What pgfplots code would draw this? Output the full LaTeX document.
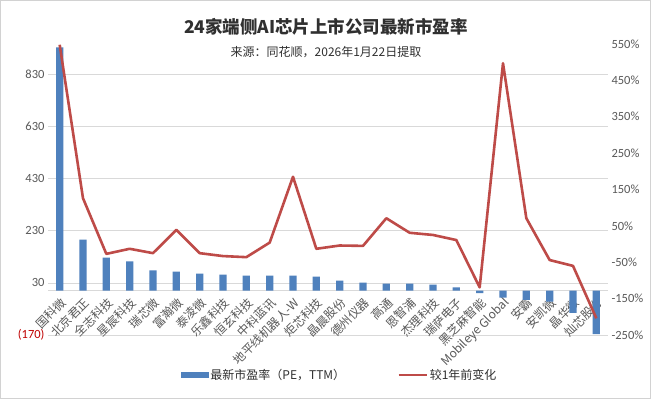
\documentclass[border=0pt]{standalone}
\usepackage{fontspec}
\setmainfont{Carlito}
\newfontfamily\cjk{Noto Sans CJK SC}
\usepackage{pgfplots}
\pgfplotsset{compat=1.18}
\definecolor{barblue}{HTML}{4F81BD}
\definecolor{linered}{HTML}{BE4B48}
\definecolor{ticktext}{HTML}{595959}
\definecolor{negred}{HTML}{C00000}
\definecolor{gridc}{HTML}{D9D9D9}
\definecolor{titlec}{HTML}{303030}
\begin{document}
\begin{tikzpicture}
\useasboundingbox (0,0) rectangle (651bp,399bp);
\fill[white] (0,0) rectangle (651bp,399bp);
\draw[gray!35, line width=0.8bp] (0.5bp,0.5bp) rectangle (650.5bp,398.5bp);
\begin{axis}[
 at={(48bp,64bp)}, anchor=south west, scale only axis, width=560bp, height=291bp,
 xmin=-0.5, xmax=23.5, ymin=-170, ymax=947,
 axis x line*=middle, axis y line*=left, hide obscured x ticks=false,
 x axis line style={draw=gridc, line width=0.75bp}, y axis line style={draw=none},
 tick style={draw=none},
 xtick={0,...,23},
 xticklabels={国科微,北京君正,全志科技,星宸科技,瑞芯微,富瀚微,泰凌微,乐鑫科技,恒玄科技,中科蓝讯,地平线机器人-W,炬芯科技,晶晨股份,德州仪器,高通,恩智浦,杰理科技,瑞萨电子,黑芝麻智能,Mobileye Global,安霸,安凯微,晶华微,灿芯股份},
 xticklabel style={font=\cjk\fontsize{12bp}{12bp}\selectfont, rotate=45, anchor=north east, text=ticktext, inner sep=1bp},
 ytick={-170,30,230,430,630,830},
 yticklabels={{\color{negred}(170)},30,230,430,630,830},
 yticklabel style={font=\fontsize{12.5bp}{13bp}\selectfont, text=ticktext},
 ymajorgrids, major grid style={draw=gridc, line width=0.75bp},
 ybar, bar width=7.3bp,
 clip=false,
]
\addplot[fill=barblue, draw=none] coordinates {
(0,934) (1,196) (2,127) (3,113) (4,78) (5,73) (6,66) (7,62) (8,58) (9,58) (10,58) (11,54)
(12,39) (13,31) (14,27) (15,27) (16,23) (17,13) (18,-9) (19,-27) (20,-35) (21,-42) (22,-85) (23,-167)};
\end{axis}
\begin{axis}[
 at={(48bp,64bp)}, anchor=south west, scale only axis, width=560bp, height=291bp,
 xmin=-0.5, xmax=23.5, ymin=-250, ymax=550,
 axis x line=none, axis y line*=right, y axis line style={draw=none}, tick style={draw=none},
 ytick={-250,-150,-50,50,150,250,350,450,550},
 yticklabels={-250\%,-150\%,-50\%,50\%,150\%,250\%,350\%,450\%,550\%},
 yticklabel style={font=\fontsize{12.5bp}{13bp}\selectfont, text=ticktext},
 legend style={at={(0.521,-0.137)}, anchor=center, draw=none, fill=none,
   font=\cjk\fontsize{12bp}{12bp}\selectfont, text=titlec, legend columns=2,
   /tikz/every even column/.append style={column sep=50bp}},
 clip=false,
]
\addlegendimage{legend image code/.code={\fill[barblue] (0bp,-2.8bp) rectangle (27bp,2.8bp);}}
\addlegendentry{最新市盈率（PE，TTM）}
\addplot[linered, line width=2.6bp, mark=none, line join=round,
  legend image code/.code={\draw[linered, line width=2.6bp] (0bp,0bp) -- (28bp,0bp);}] coordinates {
(0,548) (1,126) (2,-27) (3,-13) (4,-25) (5,39) (6,-25) (7,-33) (8,-36) (9,4) (10,185) (11,-13)
(12,-4) (13,-5) (14,71) (15,31) (16,25) (17,11) (18,-119) (19,497) (20,71) (21,-44) (22,-60) (23,-204)};
\addlegendentry{较1年前变化}
\end{axis}
\node[font=\cjk\bfseries\fontsize{17.5bp}{18bp}\selectfont, text=titlec] at (326bp,372bp) {24家端侧AI芯片上市公司最新市盈率};
\node[font=\cjk\fontsize{12bp}{12bp}\selectfont, text=titlec] at (326bp,347bp) {来源：同花顺，2026年1月22日提取};
\end{tikzpicture}
\end{document}
